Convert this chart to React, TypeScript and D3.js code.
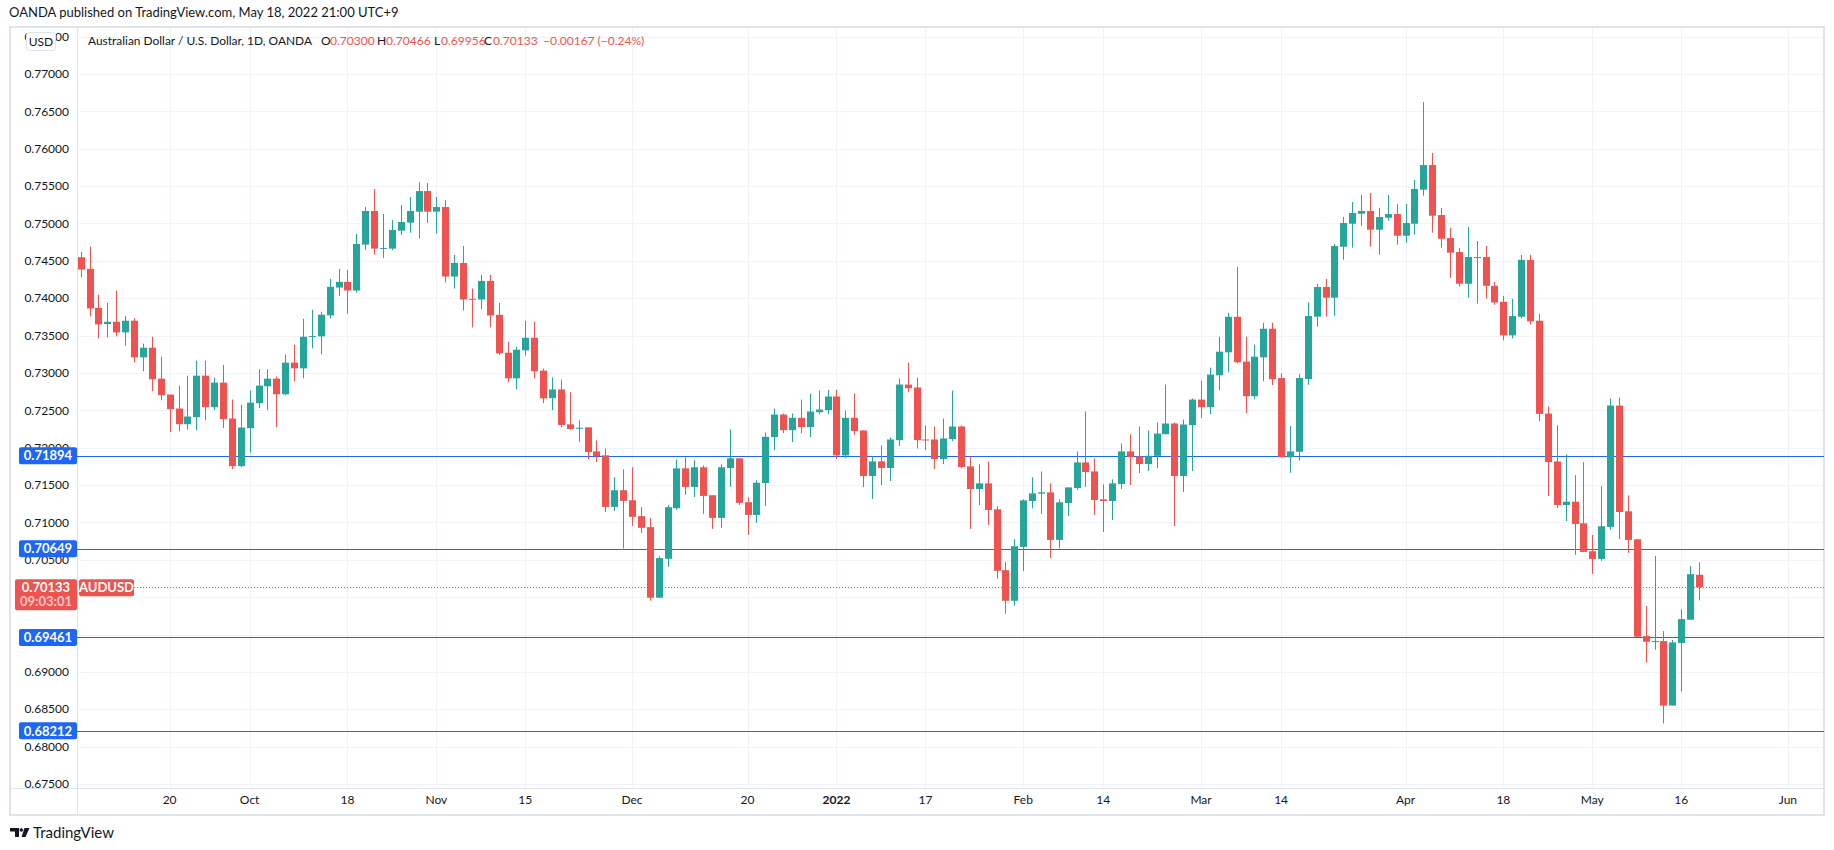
import React from "react";
import * as d3 from "d3";

// open, high, low, close
type OHLC = [number, number, number, number];

const sep2021: OHLC[] = [
  [0.74549, 0.7462, 0.74277, 0.74384],
  [0.74393, 0.74691, 0.73756, 0.73863],
  [0.73872, 0.74046, 0.73463, 0.7365],
  [0.73654, 0.73939, 0.73476, 0.73685],
  [0.73685, 0.74099, 0.73489, 0.73543],
  [0.73543, 0.73765, 0.73365, 0.73699],
  [0.73699, 0.73734, 0.73142, 0.73209],
  [0.73209, 0.73392, 0.73022, 0.73338],
  [0.73338, 0.73485, 0.72755, 0.72915],
  [0.72924, 0.73218, 0.72635, 0.72702],
  [0.72711, 0.72711, 0.72208, 0.72515],
  [0.72524, 0.72831, 0.72221, 0.72315],
  [0.72315, 0.72964, 0.72243, 0.72417],
  [0.72408, 0.73165, 0.72234, 0.72964],
  [0.72964, 0.73165, 0.72368, 0.72542],
  [0.72542, 0.72938, 0.72502, 0.72871],
  [0.72871, 0.73107, 0.72261, 0.72381],
  [0.7239, 0.72644, 0.71714, 0.71754],
  [0.71754, 0.72577, 0.71741, 0.7227],
];

const oct2021: OHLC[] = [
  [0.72261, 0.72764, 0.71932, 0.72604],
  [0.72595, 0.73049, 0.72528, 0.72831],
  [0.72822, 0.73049, 0.72502, 0.72924],
  [0.72924, 0.72951, 0.72275, 0.72715],
  [0.72715, 0.73245, 0.72702, 0.73138],
  [0.73138, 0.73378, 0.72889, 0.73062],
  [0.73062, 0.73725, 0.72929, 0.73485],
  [0.73485, 0.73845, 0.73329, 0.73494],
  [0.7349, 0.73819, 0.73249, 0.73779],
  [0.7377, 0.74259, 0.7373, 0.74153],
  [0.74143, 0.74392, 0.74032, 0.74219],
  [0.74219, 0.74379, 0.73792, 0.74103],
  [0.74103, 0.7486, 0.74076, 0.74726],
  [0.74717, 0.7522, 0.74646, 0.75167],
  [0.75167, 0.7546, 0.74584, 0.74664],
  [0.74664, 0.75127, 0.74539, 0.74673],
  [0.74664, 0.75046, 0.74646, 0.74913],
  [0.74904, 0.75247, 0.74846, 0.7502],
  [0.75011, 0.75354, 0.74877, 0.75167],
  [0.75158, 0.75554, 0.74797, 0.75434],
  [0.75434, 0.7554, 0.75006, 0.75158],
];

const nov2021: OHLC[] = [
  [0.75158, 0.75354, 0.74864, 0.7522],
  [0.7522, 0.75313, 0.7421, 0.7429],
  [0.7429, 0.74579, 0.7413, 0.74472],
  [0.74472, 0.74699, 0.73836, 0.73983],
  [0.73992, 0.7413, 0.73609, 0.73983],
  [0.73983, 0.74312, 0.7385, 0.74232],
  [0.74232, 0.74312, 0.73609, 0.73769],
  [0.73778, 0.73938, 0.73244, 0.73262],
  [0.73271, 0.73418, 0.72875, 0.72928],
  [0.72928, 0.73351, 0.72781, 0.73311],
  [0.73302, 0.73698, 0.73235, 0.73471],
  [0.73471, 0.73685, 0.72928, 0.73022],
  [0.73031, 0.73057, 0.72595, 0.72661],
  [0.72663, 0.72939, 0.72503, 0.72779],
  [0.72779, 0.72912, 0.72276, 0.72303],
  [0.72312, 0.72743, 0.72241, 0.72249],
  [0.72258, 0.72365, 0.72076, 0.72267],
  [0.72272, 0.72272, 0.71849, 0.71942],
  [0.71951, 0.72098, 0.71809, 0.71889],
  [0.71898, 0.71991, 0.71141, 0.71208],
  [0.71208, 0.71604, 0.71155, 0.71431],
  [0.71431, 0.71711, 0.70652, 0.71288],
];

const dec2021: OHLC[] = [
  [0.71297, 0.71738, 0.70954, 0.71075],
  [0.71084, 0.71204, 0.70861, 0.70928],
  [0.70937, 0.71057, 0.69953, 0.69993],
  [0.69993, 0.7055, 0.69993, 0.70523],
  [0.70514, 0.71235, 0.70407, 0.71204],
  [0.7119, 0.71844, 0.71168, 0.71724],
  [0.71724, 0.71871, 0.71368, 0.71475],
  [0.71475, 0.71831, 0.71342, 0.71738],
  [0.71738, 0.71764, 0.71115, 0.71355],
  [0.71364, 0.71364, 0.70914, 0.71061],
  [0.71061, 0.71778, 0.70928, 0.71738],
  [0.71729, 0.72245, 0.71475, 0.71858],
  [0.71858, 0.71858, 0.71235, 0.71262],
  [0.71271, 0.71337, 0.70834, 0.71101],
  [0.711, 0.71563, 0.70994, 0.71532],
  [0.71528, 0.72204, 0.7122, 0.72146],
  [0.72142, 0.72524, 0.71968, 0.72444],
  [0.72444, 0.72458, 0.72195, 0.72235],
  [0.72235, 0.72458, 0.72075, 0.724],
  [0.724, 0.72644, 0.72195, 0.72275],
  [0.72275, 0.72725, 0.72142, 0.72484],
  [0.72475, 0.72765, 0.72449, 0.72511],
  [0.72502, 0.72774, 0.72449, 0.72685],
];

const jan2022: OHLC[] = [
  [0.72685, 0.72774, 0.71848, 0.71897],
  [0.71897, 0.72498, 0.71861, 0.724],
  [0.724, 0.72725, 0.72168, 0.72222],
  [0.72231, 0.72231, 0.71474, 0.71621],
  [0.71621, 0.71884, 0.71314, 0.71817],
  [0.71817, 0.7203, 0.71501, 0.71728],
  [0.71728, 0.72137, 0.71554, 0.7211],
  [0.72101, 0.72925, 0.72021, 0.72845],
  [0.72845, 0.73138, 0.72742, 0.72796],
  [0.72805, 0.72938, 0.7199, 0.72101],
  [0.7211, 0.72297, 0.71968, 0.72101],
  [0.7211, 0.72284, 0.71714, 0.71848],
  [0.71848, 0.72391, 0.71781, 0.72124],
  [0.72115, 0.72765, 0.72088, 0.72284],
  [0.72284, 0.72297, 0.71728, 0.71741],
  [0.7175, 0.71884, 0.70913, 0.71447],
  [0.71447, 0.71777, 0.71234, 0.71523],
  [0.71523, 0.71817, 0.70967, 0.71167],
  [0.71176, 0.71216, 0.70246, 0.70353],
  [0.70362, 0.70473, 0.69779, 0.69952],
  [0.69952, 0.70775, 0.69885, 0.70682],
];

const feb2022: OHLC[] = [
  [0.70673, 0.71309, 0.70352, 0.71296],
  [0.71287, 0.71603, 0.71189, 0.71389],
  [0.71385, 0.71683, 0.71113, 0.71403],
  [0.71403, 0.71523, 0.70526, 0.70766],
  [0.70766, 0.71309, 0.70655, 0.71269],
  [0.7126, 0.71469, 0.71087, 0.71469],
  [0.71461, 0.7195, 0.71434, 0.71803],
  [0.71803, 0.72484, 0.71474, 0.71674],
  [0.71683, 0.71857, 0.711, 0.713],
  [0.71309, 0.71509, 0.70873, 0.71287],
  [0.71287, 0.71576, 0.71033, 0.71523],
  [0.71514, 0.72057, 0.71447, 0.7195],
  [0.7195, 0.72177, 0.71501, 0.71874],
  [0.71883, 0.72284, 0.71661, 0.71781],
  [0.71781, 0.7223, 0.71688, 0.71892],
  [0.71892, 0.72337, 0.71728, 0.7219],
  [0.72181, 0.72844, 0.72177, 0.72324],
  [0.72324, 0.72337, 0.70953, 0.71621],
  [0.71621, 0.72377, 0.71407, 0.72311],
  [0.72302, 0.72658, 0.71688, 0.72644],
];

const mar2022: OHLC[] = [
  [0.72644, 0.72898, 0.72395, 0.72542],
  [0.72542, 0.73071, 0.72448, 0.72978],
  [0.72969, 0.73485, 0.72769, 0.73285],
  [0.73276, 0.73806, 0.73009, 0.73752],
  [0.73752, 0.7442, 0.73129, 0.73143],
  [0.73152, 0.73485, 0.72462, 0.72689],
  [0.72689, 0.73378, 0.72649, 0.73218],
  [0.73209, 0.73672, 0.72889, 0.73592],
  [0.73592, 0.73672, 0.72836, 0.72916],
  [0.72932, 0.72995, 0.71871, 0.71871],
  [0.71871, 0.7229, 0.71665, 0.71951],
  [0.71946, 0.72986, 0.71826, 0.72932],
  [0.72919, 0.73944, 0.72843, 0.73762],
  [0.73753, 0.7419, 0.73619, 0.7415],
  [0.7415, 0.74257, 0.73753, 0.74007],
  [0.74007, 0.74725, 0.73766, 0.74698],
  [0.74689, 0.75086, 0.74515, 0.75006],
  [0.74997, 0.75287, 0.74676, 0.7514],
  [0.75131, 0.75381, 0.7497, 0.75167],
  [0.75167, 0.75407, 0.74689, 0.74917],
  [0.74917, 0.75207, 0.74582, 0.75086],
  [0.75077, 0.75381, 0.75037, 0.75126],
  [0.75126, 0.7526, 0.74716, 0.74836],
];

const apr2022: OHLC[] = [
  [0.74836, 0.7526, 0.74743, 0.75006],
  [0.74997, 0.75581, 0.7485, 0.75461],
  [0.75452, 0.76625, 0.75372, 0.75782],
  [0.75782, 0.75943, 0.74877, 0.75104],
  [0.75113, 0.75207, 0.74676, 0.74796],
  [0.74805, 0.74939, 0.74275, 0.74609],
  [0.74618, 0.74671, 0.74154, 0.74194],
  [0.74194, 0.74952, 0.74007, 0.74551],
  [0.74542, 0.74765, 0.73927, 0.74551],
  [0.74551, 0.74698, 0.73994, 0.74167],
  [0.74166, 0.74219, 0.73912, 0.73943],
  [0.73952, 0.74032, 0.73436, 0.73503],
  [0.73503, 0.73992, 0.73463, 0.73761],
  [0.73752, 0.7458, 0.7373, 0.74513],
  [0.74513, 0.7458, 0.7365, 0.7369],
  [0.73699, 0.73792, 0.72355, 0.72453],
  [0.72457, 0.72551, 0.71353, 0.71807],
  [0.71816, 0.72301, 0.71193, 0.71233],
  [0.71233, 0.7191, 0.7102, 0.71278],
  [0.71278, 0.71634, 0.70566, 0.7098],
  [0.70989, 0.71807, 0.70606, 0.70606],
];

const may2022: OHLC[] = [
  [0.70615, 0.70833, 0.70312, 0.70512],
  [0.70512, 0.71487, 0.70486, 0.70949],
  [0.7094, 0.72657, 0.709, 0.72564],
  [0.72564, 0.72671, 0.70779, 0.7114],
  [0.71149, 0.71362, 0.70593, 0.70766],
  [0.70775, 0.70775, 0.69471, 0.69471],
  [0.6948, 0.69881, 0.69124, 0.69404],
  [0.69404, 0.70552, 0.69298, 0.69413],
  [0.69413, 0.69547, 0.6831, 0.6855],
  [0.6855, 0.69427, 0.6855, 0.69395],
  [0.69386, 0.6984, 0.68737, 0.69707],
  [0.69698, 0.70415, 0.69698, 0.70308],
  [0.703, 0.70466, 0.69956, 0.70133],
];

const candles: OHLC[] = [
  ...sep2021, ...oct2021, ...nov2021, ...dec2021,
  ...jan2022, ...feb2022, ...mar2022, ...apr2022, ...may2022,
];

// horizontal levels drawn on the chart
const levels = [0.71894, 0.70649, 0.69461, 0.68212];
const lastPrice = 0.70133;
// price ticks fully hidden behind the last-price label and a level label
const hiddenTicks = ["0.70000", "0.69500"];

// time axis labels: [date, label]
const timeTicks: [string, string][] = [
  ["2021-09-20", "20"], ["2021-10-01", "Oct"], ["2021-10-18", "18"],
  ["2021-11-01", "Nov"], ["2021-11-15", "15"], ["2021-12-01", "Dec"],
  ["2021-12-20", "20"], ["2022-01-03", "2022"], ["2022-01-17", "17"],
  ["2022-02-01", "Feb"], ["2022-02-14", "14"], ["2022-03-01", "Mar"],
  ["2022-03-14", "14"], ["2022-04-01", "Apr"], ["2022-04-18", "18"],
  ["2022-05-02", "May"], ["2022-05-16", "16"], ["2022-06-01", "Jun"],
];

const W = 1834;
const H = 850;
const frame = { left: 10, top: 27, right: 1824, bottom: 815 };
const plot = { left: 77, top: 27, right: 1824, bottom: 788 };

const GREEN = "#26a69a";
const RED = "#ef5350";
const BLUE = "#1e66f5";
const TEXT = "#131722";
const GRID = "#f0f3fa";
const BORDER = "#e0e3eb";
const FONT = "'Lato', 'Open Sans', sans-serif";

const fmtDay = d3.timeFormat("%Y-%m-%d");
// forex daily bars: every weekday
const tradingDays = d3
  .timeDay.range(new Date(2021, 8, 6), new Date(2022, 5, 11))
  .filter((d) => d.getDay() !== 0 && d.getDay() !== 6)
  .map(fmtDay);

const App: React.FC = () => {
  const xScale = d3
    .scaleLinear()
    .domain([0, candles.length - 1])
    .range([80.7, 1699]);

  const yScale = d3
    .scaleLinear()
    .domain([0.67447, 0.77629])
    .range([plot.bottom, plot.top]);

  const yTicks = yScale.ticks(20);
  const bodyW = 7;

  const xTicks = timeTicks.map(([d, label]) => ({
    x: xScale(tradingDays.indexOf(d)),
    label,
  }));

  // legend pieces: text, colour, x, width
  const legendParts: [string, string, number, number][] = [
    ["Australian Dollar / U.S. Dollar, 1D, OANDA", TEXT, 88, 224],
    ["O", TEXT, 321, 0], ["0.70300", RED, 330, 0],
    ["H", TEXT, 377, 0], ["0.70466", RED, 386, 0],
    ["L", TEXT, 434, 0], ["0.69956", RED, 441, 0],
    ["C", TEXT, 484, 0], ["0.70133", RED, 493, 0],
    ["−0.00167 (−0.24%)", RED, 543, 0],
  ];

  const yLast = yScale(lastPrice);

  return (
    <div style={{ position: "absolute", left: 0, top: 0, background: "#fff" }}>
      <svg width={W} height={H} style={{ display: "block", fontFamily: FONT }}>
        <rect width={W} height={H} fill="#fff" />

        <text x={9} y={17} fontSize={13} fill={TEXT}>
          OANDA published on TradingView.com, May 18, 2022 21:00 UTC+9
        </text>

        {/* grid */}
        {yTicks.map((t) => (
          <line key={`gy${t}`} x1={plot.left} x2={plot.right}
            y1={Math.round(yScale(t)) + 0.5} y2={Math.round(yScale(t)) + 0.5}
            stroke={GRID} />
        ))}
        {xTicks.map((t) => (
          <line key={`gx${t.x}`} x1={Math.round(t.x) + 0.5} x2={Math.round(t.x) + 0.5}
            y1={plot.top} y2={plot.bottom} stroke={GRID} />
        ))}

        {/* frame and axis borders */}
        <rect x={frame.left} y={frame.top} width={frame.right - frame.left}
          height={frame.bottom - frame.top} fill="none" stroke={BORDER} strokeWidth={2} />
        <line x1={plot.left + 0.5} x2={plot.left + 0.5} y1={frame.top} y2={frame.bottom} stroke={BORDER} />
        <line x1={frame.left} x2={frame.right} y1={plot.bottom + 0.5} y2={plot.bottom + 0.5} stroke={BORDER} />

        {/* level lines */}
        {levels.map((v) => (
          <line key={`l${v}`} x1={plot.left} x2={plot.right}
            y1={Math.round(yScale(v)) + 0.5} y2={Math.round(yScale(v)) + 0.5}
            stroke={BLUE} strokeWidth={1} />
        ))}

        {/* last price dotted line */}
        <line x1={134} x2={plot.right} y1={Math.round(yLast) + 0.5} y2={Math.round(yLast) + 0.5}
          stroke={RED} strokeDasharray="1 2" />

        {/* candles */}
        {candles.map(([o, h, l, c], i) => {
          const x = Math.round(xScale(i));
          const up = c >= o;
          const col = up ? GREEN : RED;
          const top = yScale(Math.max(o, c));
          const bot = yScale(Math.min(o, c));
          return (
            <g key={i}>
              <line x1={x + 0.5} x2={x + 0.5} y1={yScale(h)} y2={yScale(l)} stroke={col} strokeWidth={1} />
              <rect x={x - (bodyW - 1) / 2} y={top} width={bodyW}
                height={Math.max(1, bot - top)} fill={col} />
            </g>
          );
        })}

        {/* price axis labels */}
        {yTicks
          .filter((t) => !hiddenTicks.includes(t.toFixed(5)))
          .map((t) => (
            <text key={`ty${t}`} x={69} y={yScale(t)} dy="0.35em" textAnchor="end"
              fontSize={12} fill={TEXT}>
              {t.toFixed(5)}
            </text>
          ))}

        {/* time axis labels */}
        {xTicks.map((t) => (
          <text key={`tx${t.x}`} x={t.x} y={804} textAnchor="middle" fontSize={12}
            fill={TEXT} fontWeight={t.label === "2022" ? 700 : 400}>
            {t.label}
          </text>
        ))}

        {/* level labels */}
        {levels.map((v) => {
          const y = yScale(v);
          return (
            <g key={`ll${v}`}>
              <rect x={19} y={y - 8.5} width={58} height={17} rx={2} fill={BLUE} />
              <text x={48} y={y} dy="0.36em" textAnchor="middle" fontSize={13}
                fontWeight={700} fill="#fff">
                {v.toFixed(5)}
              </text>
            </g>
          );
        })}

        {/* last price label */}
        <rect x={15} y={yLast - 8} width={62} height={31} rx={2} fill={RED} />
        <text x={46} y={yLast} dy="0.36em" textAnchor="middle" fontSize={13} fontWeight={700} fill="#fff">
          {lastPrice.toFixed(5)}
        </text>
        <text x={46} y={yLast + 14.5} dy="0.36em" textAnchor="middle" fontSize={13} fontWeight={700}
          fill="#fff" fillOpacity={0.7}>
          09:03:01
        </text>
        <rect x={79} y={yLast - 8} width={55} height={17} rx={2} fill={RED} />
        <text x={106.5} y={yLast} dy="0.36em" textAnchor="middle" fontSize={13} fontWeight={700} fill="#fff">
          AUDUSD
        </text>

        {/* currency badge */}
        <rect x={26.5} y={32.5} width={29} height={18} rx={3} fill="#fff" stroke={BORDER} />
        <text x={41} y={41.5} dy="0.36em" textAnchor="middle" fontSize={12} fill={TEXT}>USD</text>

        {/* legend */}
        {legendParts.map(([s, col, x, w], i) => (
          <text key={`lg${i}`} x={x} y={45} fontSize={12} fill={col}
            {...(w ? { textLength: w, lengthAdjust: "spacingAndGlyphs" } : {})}>
            {s}
          </text>
        ))}

        {/* TradingView logo */}
        <g fill={TEXT}>
          <path d="M10 828 H19 V837 H15 V831.5 H10 Z" />
          <circle cx={21.3} cy={830} r={1.8} />
          <path d="M24.5 828 H29.5 L25.5 837 H21.5 Z" />
        </g>
        <text x={33} y={838} fontSize={15} fill={TEXT}>TradingView</text>
      </svg>
    </div>
  );
};

export default App;
